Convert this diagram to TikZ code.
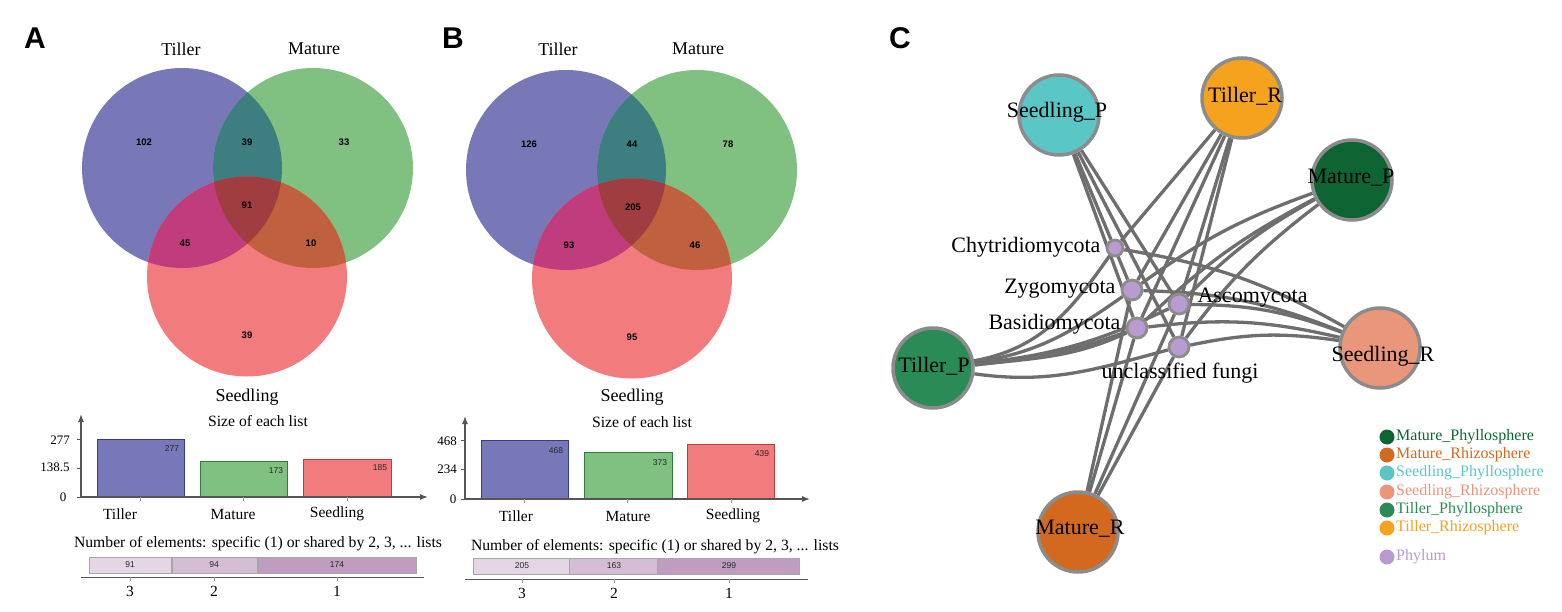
\documentclass[tikz,border=0pt]{standalone}
\usepackage{fontspec}
\setmainfont{Liberation Serif}
\newfontfamily\sansf{Liberation Sans}
\usetikzlibrary{arrows.meta}
\pgfdeclarelayer{bg}
\pgfsetlayers{bg,main}
\definecolor{cT}{HTML}{7878B8}
\definecolor{cM}{HTML}{80C080}
\definecolor{cS}{HTML}{F27B7D}
\definecolor{cTM}{HTML}{3D7F80}
\definecolor{cTS}{HTML}{C03C7C}
\definecolor{cMS}{HTML}{C0603E}
\definecolor{cTMS}{HTML}{A03D40}
\definecolor{cTb}{HTML}{3A3A8A}
\definecolor{cMb}{HTML}{2E7F38}
\definecolor{cSb}{HTML}{C23B3B}
\definecolor{bx3}{HTML}{E4D6E4}
\definecolor{bx2}{HTML}{D5BED5}
\definecolor{bx1}{HTML}{C09CC0}
\definecolor{cSP}{HTML}{5BC6C6}
\definecolor{cTR}{HTML}{F5A31F}
\definecolor{cMP}{HTML}{0F6433}
\definecolor{cSR}{HTML}{E9967A}
\definecolor{cTP}{HTML}{2B8B57}
\definecolor{cMR}{HTML}{D2691E}
\definecolor{cPh}{HTML}{B99BD1}
\definecolor{cBd}{HTML}{8C8C8C}
\definecolor{cEd}{HTML}{6E6E6E}
\definecolor{cAx}{HTML}{555555}
\tikzset{
  panel/.style={font=\sansf\bfseries\fontsize{30}{32}\selectfont},
  vlab/.style={font=\fontsize{18}{20}\selectfont},
  vnum/.style={font=\sansf\bfseries\fontsize{9.5}{10}\selectfont},
  ctitle/.style={font=\fontsize{15.7}{17}\selectfont},
  clab/.style={font=\fontsize{15.5}{17}\selectfont},
  ytick/.style={font=\fontsize{13}{14}\selectfont},
  bnum/.style={font=\sansf\fontsize{8.5}{9}\selectfont, text=black!85},
  axisline/.style={draw=cAx, line width=1.3pt},
  boxst/.style={draw=black!35, line width=0.8pt},
  sample/.style={circle, draw=cBd, line width=3.5pt, minimum size=80pt, inner sep=0pt},
  slab/.style={font=\fontsize{22}{24}\selectfont},
  phylum/.style={circle, draw=cBd, line width=2.8pt, fill=cPh, minimum size=20pt, inner sep=0pt},
  edge/.style={draw=cEd, line width=3.3pt},
  legdot/.style={circle, minimum size=15pt, inner sep=0pt},
  legtxt/.style={anchor=west, inner sep=0pt, font=\fontsize{16}{17}\selectfont},
}
\begin{document}
\begin{tikzpicture}[x=1pt,y=-1pt]
\useasboundingbox (0,0) rectangle (1562,612);
\begin{pgfonlayer}{bg}
\fill[white] (0,0) rectangle (1562,612);
\end{pgfonlayer}

% ================= Panel A =================
\node[panel] (lA) at (35,38) {A};
\fill[cT] (182,168) circle[radius=100pt];
\fill[cM] (313,168) circle[radius=100pt];
\fill[cS] (247,276.5) circle[radius=100pt];
\begin{scope}\clip (182,168) circle[radius=100pt]; \fill[cTM] (313,168) circle[radius=100pt];\end{scope}
\begin{scope}\clip (182,168) circle[radius=100pt]; \fill[cTS] (247,276.5) circle[radius=100pt];\end{scope}
\begin{scope}\clip (313,168) circle[radius=100pt]; \fill[cMS] (247,276.5) circle[radius=100pt];\end{scope}
\begin{scope}\clip (182,168) circle[radius=100pt]; \clip (313,168) circle[radius=100pt]; \fill[cTMS] (247,276.5) circle[radius=100pt];\end{scope}
\node[vlab] (aT) at (181,49) {Tiller};
\node[vlab] (aM) at (314,49) {Mature};
\node[vlab] (aS) at (247,397) {Seedling};
\node[vnum] (a1) at (144,142) {102};
\node[vnum] (a2) at (247,142) {39};
\node[vnum] (a3) at (344,142) {33};
\node[vnum] (a4) at (247,205) {91};
\node[vnum] (a5) at (185,243) {45};
\node[vnum] (a6) at (311,243) {10};
\node[vnum] (a7) at (247,335) {39};

\node[ctitle] (aSz) at (258,421) {Size of each list};
\draw[fill=cT, draw=cTb, line width=0.8pt] (97,439) rectangle (184,497);
\draw[fill=cM, draw=cMb, line width=0.8pt] (200,461) rectangle (287,497);
\draw[fill=cS, draw=cSb, line width=0.8pt] (303,459) rectangle (391,497);
\draw[axisline, -{Latex[length=8pt,width=6pt]}] (81,497) -- (81,414);
\draw[axisline, -{Latex[length=8pt,width=6pt]}] (81,497) -- (428,497);
\foreach \yy in {439,468,497} \draw[cAx, line width=0.8pt] (77,\yy) -- (81,\yy);
\foreach \xx in {140,243,347} \draw[black!40, line width=0.6pt] (\xx,497) -- (\xx,501);
\node[ytick] (ay1) at (60,440) {277};
\node[ytick] (ay2) at (55,467) {138.5};
\node[ytick] (ay3) at (63,497) {0};
\node[bnum] (ab1) at (172,449) {277};
\node[bnum] (ab2) at (276,471) {173};
\node[bnum] (ab3) at (380,468) {185};
\node[clab] (ac1) at (120,514) {Tiller};
\node[clab] (ac2) at (233,514) {Mature};
\node[clab] (ac3) at (337,514) {Seedling};
\node[ctitle] (aNe) at (258,544) {Number of elements: specific (1) or shared by 2, 3, ... lists};
\draw[boxst, fill=bx3] (89,557) rectangle (171,573);
\draw[boxst, fill=bx2] (172,557) rectangle (257,573);
\draw[boxst, fill=bx1] (258,557) rectangle (416,573);
\node[bnum] (ax1) at (130,565) {91};
\node[bnum] (ax2) at (214,565) {94};
\node[bnum] (ax3) at (337,565) {174};
\draw[cAx, line width=1pt] (81,577) -- (424,577);
\foreach \xx in {130,214,337} \draw[black!40, line width=0.6pt] (\xx,577) -- (\xx,581);
\node[clab] (ak1) at (130,591) {3};
\node[clab] (ak2) at (214,591) {2};
\node[clab] (ak3) at (337,591) {1};

% ================= Panel B =================
\node[panel] (lB) at (453,38) {B};
\fill[cT] (566,170) circle[radius=100pt];
\fill[cM] (697,170) circle[radius=100pt];
\fill[cS] (632,278.5) circle[radius=100pt];
\begin{scope}\clip (566,170) circle[radius=100pt]; \fill[cTM] (697,170) circle[radius=100pt];\end{scope}
\begin{scope}\clip (566,170) circle[radius=100pt]; \fill[cTS] (632,278.5) circle[radius=100pt];\end{scope}
\begin{scope}\clip (697,170) circle[radius=100pt]; \fill[cMS] (632,278.5) circle[radius=100pt];\end{scope}
\begin{scope}\clip (566,170) circle[radius=100pt]; \clip (697,170) circle[radius=100pt]; \fill[cTMS] (632,278.5) circle[radius=100pt];\end{scope}
\node[vlab] (bT) at (558,49) {Tiller};
\node[vlab] (bM) at (698,49) {Mature};
\node[vlab] (bS) at (632,397) {Seedling};
\node[vnum] (b1) at (529,144) {126};
\node[vnum] (b2) at (632,144) {44};
\node[vnum] (b3) at (728,144) {78};
\node[vnum] (b4) at (633,207) {205};
\node[vnum] (b5) at (569,245) {93};
\node[vnum] (b6) at (695,245) {46};
\node[vnum] (b7) at (632,337) {95};

\node[ctitle] (bSz) at (642,422) {Size of each list};
\draw[fill=cT, draw=cTb, line width=0.8pt] (481,440) rectangle (568,499);
\draw[fill=cM, draw=cMb, line width=0.8pt] (584,452) rectangle (672,499);
\draw[fill=cS, draw=cSb, line width=0.8pt] (687,444) rectangle (774,499);
\draw[axisline, -{Latex[length=8pt,width=6pt]}] (465,499) -- (465,416);
\draw[axisline, -{Latex[length=8pt,width=6pt]}] (465,499) -- (810,499);
\foreach \yy in {440,469.5,499} \draw[cAx, line width=0.8pt] (461,\yy) -- (465,\yy);
\foreach \xx in {524,627,731} \draw[black!40, line width=0.6pt] (\xx,499) -- (\xx,503);
\node[ytick] (by1) at (447,441) {468};
\node[ytick] (by2) at (447,469) {234};
\node[ytick] (by3) at (453,499) {0};
\node[bnum] (bb1) at (556,451) {468};
\node[bnum] (bb2) at (660,463) {373};
\node[bnum] (bb3) at (762,454) {439};
\node[clab] (bc1) at (516,516) {Tiller};
\node[clab] (bc2) at (628,516) {Mature};
\node[clab] (bc3) at (733,516) {Seedling};
\node[ctitle] (bNe) at (655,547) {Number of elements: specific (1) or shared by 2, 3, ... lists};
\draw[boxst, fill=bx3] (473,558) rectangle (569,574);
\draw[boxst, fill=bx2] (569.5,558) rectangle (657,574);
\draw[boxst, fill=bx1] (657.5,558) rectangle (799,574);
\node[bnum] (bx1) at (522,566) {205};
\node[bnum] (bx2) at (614,566) {163};
\node[bnum] (bx3) at (729,566) {299};
\draw[cAx, line width=1pt] (465,579) -- (808,579);
\foreach \xx in {522,614,729} \draw[black!40, line width=0.6pt] (\xx,579) -- (\xx,583);
\node[clab] (bk1) at (522,593) {3};
\node[clab] (bk2) at (614,593) {2};
\node[clab] (bk3) at (729,593) {1};

% ================= Panel C =================
\node[panel] (lC) at (900,38) {C};
\node[sample, fill=cSP] (SP) at (1059,115) {};
\node[sample, fill=cTR] (TR) at (1242,98) {};
\node[sample, fill=cMP] (MP) at (1352,180) {};
\node[sample, fill=cSR] (SR) at (1380,348) {};
\node[sample, fill=cTP] (TP) at (933,368) {};
\node[sample, fill=cMR] (MR) at (1078,532) {};
\node[slab] (SPt) at (1057,112) {Seedling\_P};
\node[slab] (TRt) at (1245,96) {Tiller\_R};
\node[slab] (MPt) at (1351,178) {Mature\_P};
\node[slab] (SRt) at (1383,356) {Seedling\_R};
\node[slab] (TPt) at (934,366) {Tiller\_P};
\node[slab] (MRt) at (1080,529) {Mature\_R};

\node[phylum, minimum size=16pt] (Ch) at (1115,248) {};
\node[phylum] (Zy) at (1132,290) {};
\node[phylum] (As) at (1179,304) {};
\node[phylum] (Ba) at (1137,328) {};
\node[phylum] (Un) at (1179,347) {};
\node[slab, anchor=east] (Cht) at (1104,247) {Chytridiomycota};
\node[slab, anchor=east] (Zyt) at (1119,289) {Zygomycota};
\node[slab, anchor=west] (Ast) at (1194,298) {Ascomycota};
\node[slab, anchor=east] (Bat) at (1124,324) {Basidiomycota};
\node[slab] (Unt) at (1180,373) {unclassified fungi};

\begin{pgfonlayer}{bg}
\foreach \p in {Ch,Zy,Ba,As,Un} \draw[edge] (TR) -- (\p);
\foreach \p in {Zy,Ba,As,Un} \draw[edge] (SP) -- (\p);
\foreach \p in {Zy,Ba,As,Un} \draw[edge] (MR) -- (\p);
\foreach \p in {As,Ba,Zy,Un} \draw[edge] (MP) to[bend right=8] (\p);
\foreach \p in {Ch,Zy,As,Ba,Un} \draw[edge] (\p) to[bend left=10] (SR);
\draw[edge] (TP) to[out=5, in=200] (Ba);
\draw[edge] (TP.4) to[out=7, in=205] (Ba);
\draw[edge] (TP) to[out=8, in=215] (Zy);
\draw[edge] (TP) to[out=6, in=205] (As);
\draw[edge] (TP) to[out=10, in=235] (Ch);
\draw[edge] (TP) to[out=-8, in=195] (Un);
\end{pgfonlayer}

% legend
\node[legdot, fill=cMP] (L1) at (1387,437) {};
\node[legdot, fill=cMR] (L2) at (1387,455) {};
\node[legdot, fill=cSP] (L3) at (1387,473) {};
\node[legdot, fill=cSR] (L4) at (1387,492) {};
\node[legdot, fill=cTP] (L5) at (1387,510) {};
\node[legdot, fill=cTR] (L6) at (1387,528) {};
\node[legdot, fill=cPh] (L7) at (1387,557) {};
\node[legtxt, text=cMP] (L1t) at (1396,437) {Mature\_Phyllosphere};
\node[legtxt, text=cMR] (L2t) at (1396,455) {Mature\_Rhizosphere};
\node[legtxt, text=cSP] (L3t) at (1396,473) {Seedling\_Phyllosphere};
\node[legtxt, text=cSR] (L4t) at (1396,492) {Seedling\_Rhizosphere};
\node[legtxt, text=cTP] (L5t) at (1396,510) {Tiller\_Phyllosphere};
\node[legtxt, text=cTR] (L6t) at (1396,528) {Tiller\_Rhizosphere};
\node[legtxt, text=cPh] (L7t) at (1396,557) {Phylum};
\end{tikzpicture}
\end{document}
